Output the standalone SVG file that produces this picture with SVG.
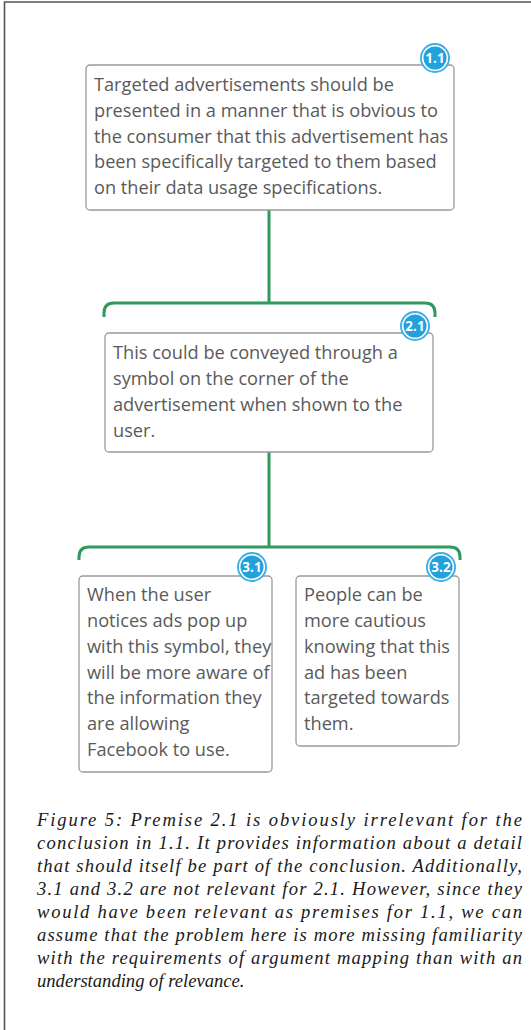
<svg xmlns="http://www.w3.org/2000/svg" width="531" height="1030" viewBox="0 0 531 1030">
<style>
.box{fill:#fff;stroke:#9a9a9a;stroke-width:1.3}
.t{font-family:"Open Sans","Noto Sans",sans-serif;font-size:18.2px;fill:#5a5a5a}
.conn{fill:none;stroke:#2f9a5c;stroke-width:3}
.bo{fill:#3eafe3}
.bi{fill:#22a1db;stroke:#fff;stroke-width:1.6}
.bt{font-family:"Open Sans","Noto Sans",sans-serif;font-size:13.5px;font-weight:bold;fill:#fff;text-anchor:middle}
.cap{font-family:"Liberation Serif","Times New Roman",serif;font-style:italic;font-size:18.6px;fill:#1a1a1a}
</style>
<rect width="531" height="1030" fill="#fff"/>
<path d="M4.5,1030 V2 H531" fill="none" stroke="#555" stroke-width="1.6"/>
<g id="connectors">
<path class="conn" d="M269,210 V303"/>
<path class="conn" d="M104,317 V313 Q104,303 114,303 H425 Q435,303 435,313 V317"/>
<path class="conn" d="M269,452 V547"/>
<path class="conn" d="M79,560 V557 Q79,547 89,547 H450 Q460,547 460,557 V560"/>
</g>
<g id="node-1.1">
<rect class="box" x="86" y="65" width="368" height="145" rx="4"/>
<text class="t" x="94"><tspan x="94" y="91">Targeted advertisements should be</tspan><tspan x="94" y="117">presented in a manner that is obvious to</tspan><tspan x="94" y="143">the consumer that this advertisement has</tspan><tspan x="94" y="168">been specifically targeted to them based</tspan><tspan x="94" y="194">on their data usage specifications.</tspan></text>
<circle class="bo" cx="435" cy="58" r="15"/><circle class="bi" cx="435" cy="58" r="12.3"/>
<text class="bt" x="435" y="62.8">1.1</text>
</g>
<g id="node-2.1">
<rect class="box" x="105" y="333" width="328" height="119" rx="4"/>
<text class="t"><tspan x="113" y="359">This could be conveyed through a</tspan><tspan x="113" y="385">symbol on the corner of the</tspan><tspan x="113" y="411">advertisement when shown to the</tspan><tspan x="113" y="437">user.</tspan></text>
<circle class="bo" cx="415" cy="326" r="15"/><circle class="bi" cx="415" cy="326" r="12.3"/>
<text class="bt" x="415" y="330.8">2.1</text>
</g>
<g id="node-3.1">
<rect class="box" x="79" y="576" width="193" height="196" rx="4"/>
<text class="t"><tspan x="87" y="601">When the user</tspan><tspan x="87" y="627">notices ads pop up</tspan><tspan x="87" y="653">with this symbol, they</tspan><tspan x="87" y="679">will be more aware of</tspan><tspan x="87" y="704">the information they</tspan><tspan x="87" y="730">are allowing</tspan><tspan x="87" y="756">Facebook to use.</tspan></text>
<circle class="bo" cx="252" cy="567" r="15"/><circle class="bi" cx="252" cy="567" r="12.3"/>
<text class="bt" x="252" y="571.8">3.1</text>
</g>
<g id="node-3.2">
<rect class="box" x="296" y="576" width="163" height="170" rx="4"/>
<text class="t"><tspan x="304" y="601">People can be</tspan><tspan x="304" y="627">more cautious</tspan><tspan x="304" y="653">knowing that this</tspan><tspan x="304" y="679">ad has been</tspan><tspan x="304" y="704">targeted towards</tspan><tspan x="304" y="730">them.</tspan></text>
<circle class="bo" cx="441" cy="567" r="15"/><circle class="bi" cx="441" cy="567" r="12.3"/>
<text class="bt" x="441" y="571.8">3.2</text>
</g>
<g id="caption">
<text class="cap" x="37" y="826" textLength="485" lengthAdjust="spacing">Figure 5: Premise 2.1 is obviously irrelevant for the</text>
<text class="cap" x="37" y="849" textLength="485" lengthAdjust="spacing">conclusion in 1.1. It provides information about a detail</text>
<text class="cap" x="37" y="872" textLength="485" lengthAdjust="spacing">that should itself be part of the conclusion. Additionally,</text>
<text class="cap" x="37" y="895" textLength="485" lengthAdjust="spacing">3.1 and 3.2 are not relevant for 2.1. However, since they</text>
<text class="cap" x="37" y="918" textLength="485" lengthAdjust="spacing">would have been relevant as premises for 1.1, we can</text>
<text class="cap" x="37" y="941" textLength="485" lengthAdjust="spacing">assume that the problem here is more missing familiarity</text>
<text class="cap" x="37" y="964" textLength="485" lengthAdjust="spacing">with the requirements of argument mapping than with an</text>
<text class="cap" x="37" y="987">understanding of relevance.</text>
</g>
</svg>
